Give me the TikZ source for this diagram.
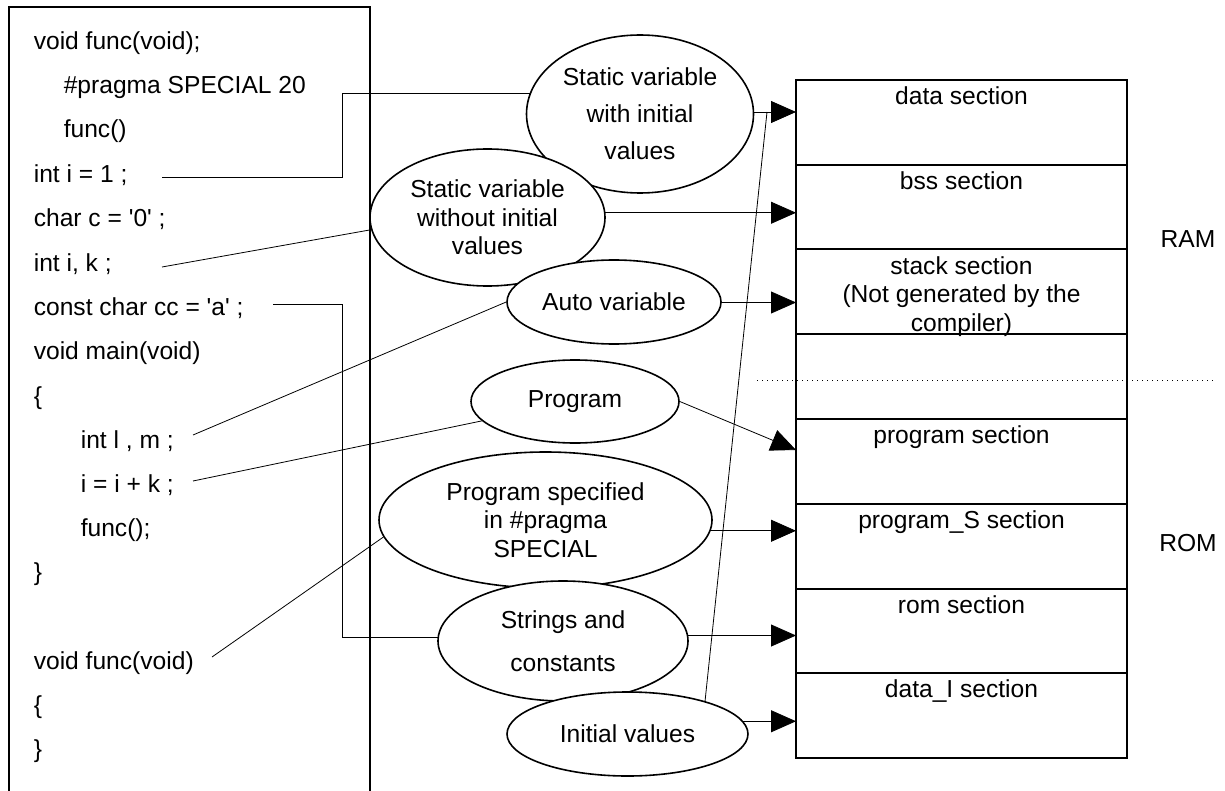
\documentclass[tikz,border=0pt]{standalone}
\usepackage{fontspec}
\setmainfont{Liberation Sans}
\usetikzlibrary{arrows.meta,calc,positioning,shapes,backgrounds}
\tikzstyle{code_line} =
  [ anchor=base west
  , inner sep=0pt
  ]
\tikzstyle{category} =
  [ ellipse
  , draw
  , fill=white
  , align=center
  , inner sep=0pt
  ]
\tikzstyle{section} =
  [ rectangle
  , draw
  , line width=1pt
  , minimum width=165.5pt
  , minimum height=42.375pt
  , outer sep=0pt
  ]
\tikzstyle{section_title} =
  [ anchor=north
  , inner sep=3pt
  , align=center
  ]
\def\sq{\textquotesingle}

\begin{document}
\begin{tikzpicture}[x=0.5pt,y=-0.5pt,line width=0.8pt,>={Triangle[length=12.5pt,width=11pt]},every node/.style={font=\fontsize{12.3}{14.25}\selectfont}]
    \useasboundingbox (0,0) rectangle (1225,791);

    % source listing
    \draw[line width=1pt] (9,791) |- (370,7) -- (370,791);
    \node[code_line] (proto)      at (33,50)  {void func(void);};
    \node[code_line] (pragma)     at (63,94)  {\#pragma SPECIAL 20};
    \node[code_line] (pragma_fn)  at (63,138) {func()};
    \node[code_line] (int_init)   at (33,183) {int i = 1 ;};
    \node[code_line] (char_init)  at (33,227) {char c = \sq0\sq{} ;};
    \node[code_line] (int_bss)    at (33,271) {int i, k ;};
    \node[code_line] (const_cc)   at (33,315) {const char cc = \sq a\sq{} ;};
    \node[code_line] (main_head)  at (33,359) {void main(void)};
    \node[code_line] (main_open)  at (33,404) {\{};
    \node[code_line] (auto_lm)    at (80,448) {int l , m ;};
    \node[code_line] (assign)     at (80,492) {i = i + k ;};
    \node[code_line] (call)       at (80,536) {func();};
    \node[code_line] (main_close) at (33,580) {\}};
    \node[code_line] (func_head)  at (33,669) {void func(void)};
    \node[code_line] (func_open)  at (33,713) {\{};
    \node[code_line] (func_close) at (33,757) {\}};

    % memory map
    \node[section, anchor=north west, label={[section_title]north:data section}] (sec_data) at (796,80) {};
    \node[section, below=0pt of sec_data,  label={[section_title]north:bss section}] (sec_bss) {};
    \node[section, below=0pt of sec_bss,   label={[section_title]north:stack section\\(Not generated by the\\compiler)}] (sec_stack) {};
    \node[section, below=0pt of sec_stack] (sec_free) {};
    \node[section, below=0pt of sec_free,  label={[section_title]north:program section}] (sec_prog) {};
    \node[section, below=0pt of sec_prog,  label={[section_title]north:program\_S section}] (sec_progS) {};
    \node[section, below=0pt of sec_progS, label={[section_title]north:rom section}] (sec_rom) {};
    \node[section, below=0pt of sec_rom,   label={[section_title]north:data\_I section}] (sec_dataI) {};
    \draw[dotted, line width=0.5pt] (757,380) -- (1213,380);
    \node (ram) at (1188,239) {RAM};
    \node (rom) at (1188,543) {ROM};

    % kinds of data
    \node[category, minimum width=113.5pt, minimum height=79pt]  (static_init)     at (640,114)   {Static variable\\[4.25pt]with initial\\[4.25pt]values};
    \node[category, minimum width=117.5pt, minimum height=68.5pt] (static_bss)     at (487.5,217.5) {Static variable\\without initial\\values};
    \node[category, minimum width=107pt, minimum height=42pt]    (auto_var)        at (614,302)   {Auto variable};
    \node[category, minimum width=104pt, minimum height=41.5pt]  (program)         at (575,401.5) {Program};
    \node[category, minimum width=166.5pt, minimum height=68pt]  (program_special) at (545.5,520) {Program specified\\in \#pragma\\SPECIAL};
    \node[category, minimum width=125pt, minimum height=60pt]    (constants)       at (563,641)   {Strings and\\[7.25pt]constants};
    \node[category, minimum width=120.5pt, minimum height=42pt]  (init_values)     at (627.5,734) {Initial values};

    \begin{scope}[on background layer]
      \coordinate (to_data)  at ($(sec_data.north west)+(0,32)$);
      \coordinate (to_bss)   at ($(sec_bss.north west)+(0,48)$);
      \coordinate (to_stack) at ($(sec_stack.north west)+(0,53)$);
      \coordinate (to_prog)  at ($(sec_prog.north west)+(0,31)$);
      \coordinate (to_progS) at ($(sec_progS.north west)+(0,27)$);
      \coordinate (to_rom)   at ($(sec_rom.north west)+(0,47)$);
      \coordinate (to_dataI) at ($(sec_dataI.north west)+(0,48)$);
      \coordinate (data_join) at ($(to_data)+(-29,0)$);

      \draw[->] (static_init |- to_data) -- (to_data);
      \draw[->] (static_bss |- to_bss) -- (to_bss);
      \draw[->] (auto_var |- to_stack) -- (to_stack);
      \draw[->] (program.east) -- (to_prog);
      \draw[->] (program_special |- to_progS) -- (to_progS);
      \draw[->] (constants |- to_rom) -- (to_rom);
      \draw[->] (init_values |- to_dataI) -- (to_dataI);
      \draw (init_values.23) -- (data_join);

      \coordinate (from_int_init) at (162,177);
      \coordinate (bend_init)     at (342,93);
      \draw (from_int_init) -| (bend_init) -- (bend_init -| static_init);
      \coordinate (from_int_bss) at (162,267);
      \draw (from_int_bss) -- (static_bss.186);
      \coordinate (from_const) at (273,304);
      \coordinate (bend_const) at (342,637);
      \draw (from_const) -| (bend_const) -- (bend_const -| constants);
      \coordinate (from_auto) at (193,435);
      \draw (from_auto) -- (auto_var.west);
      \coordinate (from_assign) at (193,481);
      \draw (from_assign) -- (program);
      \coordinate (from_func) at (212,657);
      \draw (from_func) -- (program_special.186);
    \end{scope}
  \end{tikzpicture}
\end{document}
